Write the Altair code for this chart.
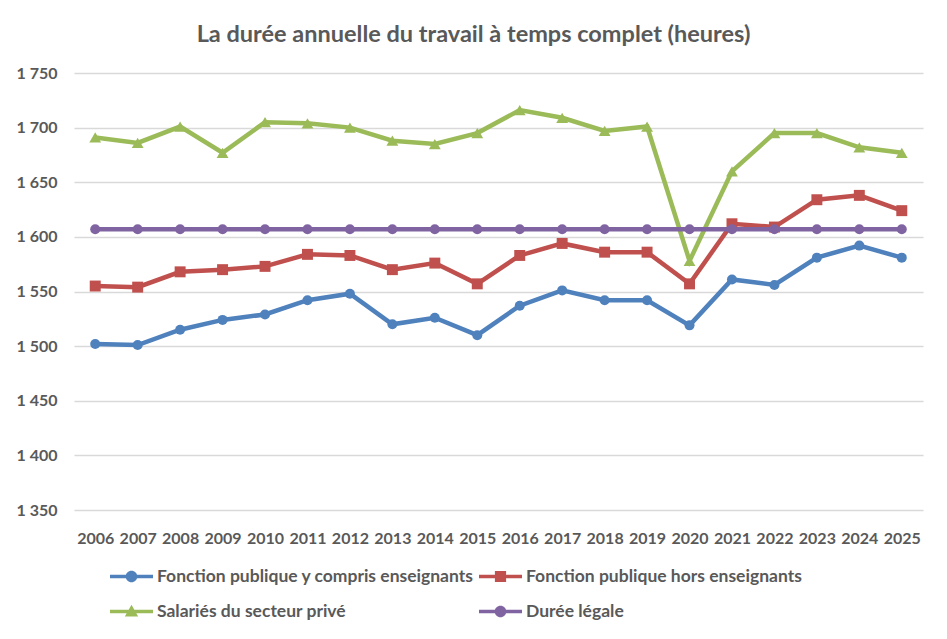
import altair as alt
import pandas as pd

# Années (axe horizontal)
annees = ["2006", "2007", "2008", "2009", "2010", "2011", "2012", "2013", "2014", "2015",
          "2016", "2017", "2018", "2019", "2020", "2021", "2022", "2023", "2024", "2025"]

# Durée annuelle du travail à temps complet, en heures
fp_avec_enseignants = [1502, 1501, 1515, 1524, 1529, 1542, 1548, 1520, 1526, 1510,
                       1537, 1551, 1542, 1542, 1519, 1561, 1556, 1581, 1592, 1581]
fp_hors_enseignants = [1555, 1554, 1568, 1570, 1573, 1584, 1583, 1570, 1576, 1557,
                       1583, 1594, 1586, 1586, 1557, 1612, 1609, 1634, 1638, 1624]
secteur_prive = [1691, 1686, 1701, 1677, 1705, 1704, 1700, 1688, 1685, 1695,
                 1716, 1709, 1697, 1701, 1578, 1660, 1695, 1695, 1682, 1677]
duree_legale = [1607, 1607, 1607, 1607, 1607, 1607, 1607, 1607, 1607, 1607,
                1607, 1607, 1607, 1607, 1607, 1607, 1607, 1607, 1607, 1607]

noms = [
    "Fonction publique y compris enseignants",
    "Fonction publique hors enseignants",
    "Salariés du secteur privé",
    "Durée légale",
]
valeurs = [fp_avec_enseignants, fp_hors_enseignants, secteur_prive, duree_legale]

couleurs = ["#4f81bd", "#c0504d", "#9bbb59", "#8064a2"]
formes = ["circle", "square", "triangle-up", "circle"]
tailles = [100, 120, 140, 100]

# Symboles de légende : trait horizontal + marqueur
trait = "M-1,-0.08L1,-0.08L1,0.08L-1,0.08Z"
rond = "M0.27,0A0.27,0.27,0,1,1,-0.27,0A0.27,0.27,0,1,1,0.27,0Z"
carre = "M-0.26,-0.26L0.26,-0.26L0.26,0.26L-0.26,0.26Z"
triangle = "M0,-0.31L0.31,0.23L-0.31,0.23Z"
symboles = [trait + rond, trait + carre, trait + triangle, trait + rond]

df = pd.DataFrame(
    [{"annee": a, "serie": n, "heures": v}
     for n, serie in zip(noms, valeurs) for a, v in zip(annees, serie)]
)

police = "Lato"
gris = "#595959"

echelle_couleur = alt.Scale(domain=noms, range=couleurs)

base = alt.Chart(df).encode(
    x=alt.X(
        "annee:O",
        title=None,
        sort=annees,
        scale=alt.Scale(padding=0.5),
        axis=alt.Axis(labelAngle=0, domain=False, ticks=False, grid=False,
                      labelPadding=20, labelFont=police, labelFontSize=16,
                      labelFontWeight="bold", labelColor=gris),
    ),
    y=alt.Y(
        "heures:Q",
        title=None,
        scale=alt.Scale(domain=[1350, 1750], nice=False, zero=False),
        axis=alt.Axis(values=list(range(1350, 1751, 50)), domain=False, ticks=False,
                      grid=True, gridColor="#d9d9d9", gridWidth=1.5,
                      labelPadding=17, labelFont=police, labelFontSize=16,
                      labelFontWeight="bold", labelColor=gris,
                      labelExpr="replace(format(datum.value, ',d'), ',', ' ')"),
    ),
    color=alt.Color("serie:N", scale=echelle_couleur, legend=None),
)

# Couche invisible qui porte la légende (trait + marqueur)
legende = base.mark_point(filled=True, opacity=0).encode(
    color=alt.Color("serie:N", scale=echelle_couleur, legend=alt.Legend(title=None)),
    shape=alt.Shape("serie:N", scale=alt.Scale(domain=noms, range=symboles),
                    legend=alt.Legend(title=None)),
)

couches = [legende]
for nom, forme, taille in zip(noms, formes, tailles):
    serie = base.transform_filter(alt.datum.serie == nom)
    couches.append(serie.mark_line(strokeWidth=4.5))
    couches.append(serie.mark_point(shape=forme, filled=True, size=taille, opacity=1))

chart = alt.layer(*couches).properties(
    width=849,
    height=437,
    autosize=alt.AutoSizeParams(type="none"),
    padding={"left": 74, "top": 73, "right": 24, "bottom": 129},
    title=alt.TitleParams(
        "La durée annuelle du travail à temps complet (heures)",
        font=police, fontSize=23.5, fontWeight="bold", color=gris,
        anchor="middle", dx=-25, offset=19,
    ),
).configure_view(
    stroke=None
).configure_legend(
    orient="none",
    direction="horizontal",
    legendX=36,
    legendY=482,
    columns=2,
    padding=0,
    symbolSize=1849,
    symbolStrokeWidth=0,
    symbolOpacity=1,
    symbolOffset=0,
    labelFont=police,
    labelFontSize=17.5,
    labelFontWeight="bold",
    labelColor=gris,
    labelOffset=4,
    labelLimit=500,
    columnPadding=5,
    rowPadding=5,
)

chart.save("out.html", embed_options={"renderer": "svg", "actions": False})
